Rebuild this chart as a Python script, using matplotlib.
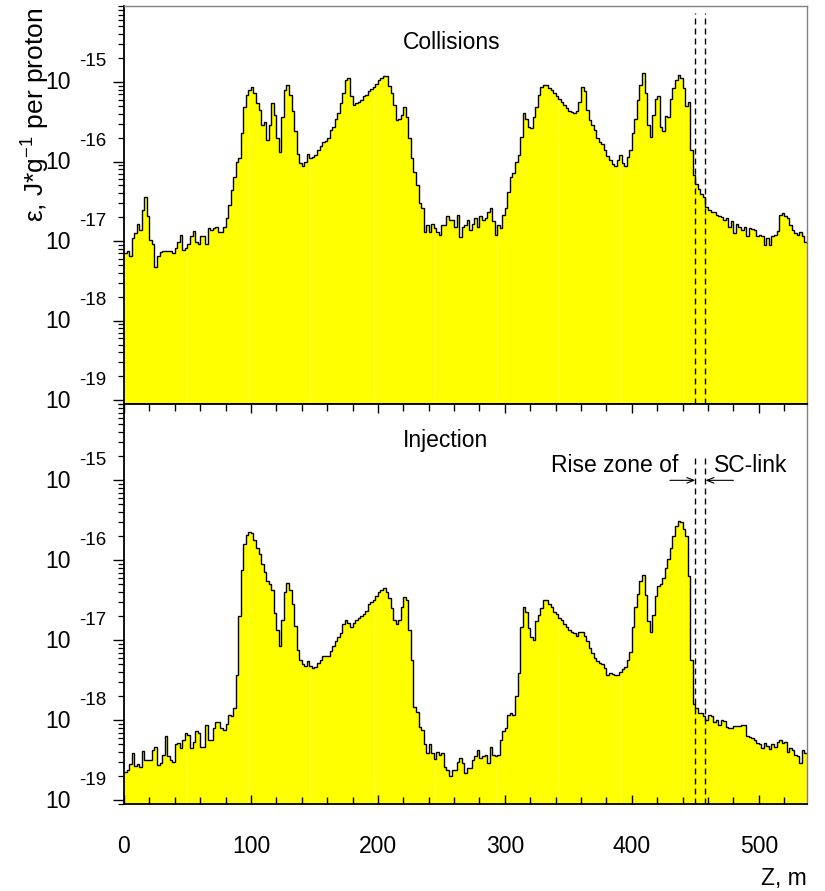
import matplotlib

matplotlib.use("Agg")

import matplotlib.pyplot as plt
import numpy as np
from matplotlib.ticker import LogLocator, MultipleLocator, NullFormatter
from matplotlib.transforms import offset_copy

# bin edges along the beam line, 2 m bins
z_edges = np.arange(0, 540, 2)

# log10 of energy deposition per bin (J/g per proton)
collisions_log = [
    -17.15, -17.13, -17.19, -16.96, -16.90, -16.78, -16.86, -16.61, -16.44, -16.69,
    -16.98, -17.03, -17.32, -17.19, -17.14, -17.13, -17.12, -17.12, -17.13, -17.15,
    -17.09, -17.01, -16.92, -17.11, -17.09, -17.03, -16.94, -16.87, -17.01, -17.03,
    -16.94, -16.94, -17.03, -16.84, -16.86, -16.84, -16.82, -16.89, -16.88, -16.82,
    -16.71, -16.55, -16.36, -16.19, -16.01, -15.96, -15.64, -15.31, -15.16, -15.10,
    -15.06, -15.14, -15.27, -15.35, -15.54, -15.50, -15.73, -15.54, -15.27, -15.41,
    -15.71, -15.88, -15.44, -15.10, -15.04,
    -15.16, -15.37, -15.62, -15.90, -16.02, -16.06, -16.00, -15.90, -15.96, -15.94,
    -15.92, -15.86, -15.80, -15.76, -15.74, -15.71, -15.61, -15.56, -15.46, -15.39,
    -15.27, -15.14, -14.97, -14.95, -15.18, -15.29, -15.27, -15.25, -15.23, -15.18,
    -15.16, -15.12, -15.09, -15.06, -15.03, -14.98, -14.95, -14.93, -14.92, -15.05,
    -15.14, -15.29, -15.48, -15.46, -15.41, -15.31, -15.44, -15.71, -15.96, -16.13,
    -16.29, -16.52, -16.59, -16.88, -16.80, -16.88, -16.78, -16.84, -16.88, -16.92,
    -16.80, -16.80, -16.69, -16.73, -16.73, -16.82, -16.67,
    -16.95, -16.82, -16.80, -16.73, -16.86, -16.78, -16.71, -16.82, -16.68, -16.73,
    -16.71, -16.64, -16.59, -16.75, -16.92, -16.80, -16.84, -16.67, -16.59, -16.38,
    -16.19, -16.15, -16.00, -15.92, -15.69, -15.39, -15.46, -15.56, -15.58, -15.44,
    -15.31, -15.16, -15.06, -15.04, -15.04, -15.07, -15.10, -15.14, -15.18, -15.22,
    -15.25, -15.29, -15.33, -15.36, -15.38, -15.39, -15.37, -15.25, -15.06, -15.12,
    -15.35, -15.48, -15.54, -15.61, -15.70, -15.75, -15.78, -15.86, -15.93, -15.98,
    -16.03, -16.06, -15.98, -15.92, -16.02, -16.06, -15.94,
    -15.85, -15.64, -15.46, -15.23, -15.04, -14.89, -15.14, -15.54, -15.69, -15.41,
    -15.21, -15.18, -15.56, -15.62, -15.43, -15.44, -15.21, -15.08, -14.97, -14.91,
    -14.95, -15.08, -15.30, -15.25, -15.85, -16.17, -16.28, -16.35, -16.41, -16.44,
    -16.57, -16.61, -16.64, -16.63, -16.67, -16.69, -16.70, -16.73, -16.71, -16.82,
    -16.75, -16.90, -16.78, -16.82, -16.86, -16.82, -16.94, -16.84, -16.85, -16.86,
    -16.94, -16.92, -16.94, -17.05, -16.96, -17.05, -16.94, -16.92, -16.87, -16.67,
    -16.65, -16.69, -16.71, -16.80, -16.86, -16.90, -16.92, -16.88, -16.94, -17.01,
]

injection_log = [
    -18.64, -18.62, -18.54, -18.41, -18.57, -18.55, -18.58, -18.38, -18.50, -18.49,
    -18.50, -18.37, -18.33, -18.56, -18.53, -18.43, -18.20, -18.45, -18.50, -18.52,
    -18.29, -18.28, -18.35, -18.24, -18.16, -18.18, -18.34, -18.27, -18.13, -18.16,
    -18.33, -18.33, -18.06, -18.25, -18.25, -18.10, -18.02, -18.02, -18.10, -18.12,
    -18.05, -17.93, -17.95, -17.85, -17.43, -16.70, -16.12, -15.80, -15.68, -15.64,
    -15.66, -15.74, -15.84, -15.92, -16.05, -16.14, -16.26, -16.30, -16.37, -16.66,
    -16.87, -17.07, -16.74, -16.39, -16.28,
    -16.37, -16.55, -16.82, -17.12, -17.25, -17.29, -17.32, -17.26, -17.32, -17.34,
    -17.33, -17.28, -17.24, -17.20, -17.19, -17.19, -17.13, -17.07, -17.01, -16.96,
    -16.91, -16.80, -16.75, -16.78, -16.83, -16.78, -16.74, -16.72, -16.70, -16.67,
    -16.63, -16.55, -16.52, -16.49, -16.44, -16.40, -16.37, -16.35, -16.39, -16.47,
    -16.60, -16.74, -16.80, -16.74, -16.58, -16.46, -16.49, -16.87, -17.24, -17.83,
    -17.90, -18.08, -18.12, -18.29, -18.41, -18.29, -18.41, -18.48, -18.39, -18.43,
    -18.41, -18.58, -18.62, -18.70, -18.62, -18.62, -18.52,
    -18.47, -18.53, -18.66, -18.60, -18.60, -18.50, -18.45, -18.37, -18.47, -18.45,
    -18.43, -18.53, -18.33, -18.43, -18.45, -18.43, -18.25, -18.13, -18.09, -17.93,
    -17.91, -17.93, -17.70, -17.41, -16.83, -16.58, -16.65, -16.85, -16.96, -16.99,
    -16.76, -16.68, -16.60, -16.50, -16.50, -16.54, -16.58, -16.64, -16.67, -16.72,
    -16.75, -16.80, -16.83, -16.87, -16.89, -16.91, -16.94, -16.90, -16.89, -16.94,
    -17.01, -17.10, -17.16, -17.22, -17.26, -17.28, -17.29, -17.35, -17.43, -17.41,
    -17.42, -17.43, -17.43, -17.40, -17.36, -17.33, -17.25,
    -17.14, -16.83, -16.58, -16.42, -16.26, -16.18, -16.43, -16.76, -16.89, -16.68,
    -16.45, -16.32, -16.29, -16.22, -16.09, -15.98, -15.84, -15.69, -15.57, -15.51,
    -15.52, -15.61, -15.70, -16.20, -17.24, -17.80, -17.85, -17.91, -17.91, -17.95,
    -17.99, -17.93, -17.95, -18.02, -17.99, -18.06, -18.00, -18.01, -18.08, -18.10,
    -18.09, -18.07, -18.07, -18.07, -18.06, -18.06, -18.20, -18.21, -18.22, -18.25,
    -18.28, -18.30, -18.35, -18.28, -18.32, -18.36, -18.29, -18.33, -18.27, -18.25,
    -18.28, -18.27, -18.39, -18.34, -18.37, -18.43, -18.45, -18.53, -18.37, -18.41,
]

# faint gaps in the fill, left by the original renderer
gap_positions = [48.6, 97.8, 146.8, 196.9, 245.0, 293.8, 342.8, 391.7, 440.5]

sc_link_zone = [450.0, 458.0]
decades = [-19, -18, -17, -16, -15]
Y_MIN, Y_MAX = 9.0e-20, 9.0e-15
X_MAX = 538

plt.rcParams.update(
    {
        "font.family": ["Liberation Sans", "DejaVu Sans"],
        "mathtext.fontset": "custom",
        "mathtext.rm": "Liberation Sans",
        "mathtext.it": "Liberation Sans:italic",
    }
)

fig = plt.figure(figsize=(8.25, 8.91), dpi=100, facecolor="white")
ax_top = fig.add_axes([0.1503, 0.5466, 0.8279, 0.4467])
ax_bot = fig.add_axes([0.1503, 0.0976, 0.8279, 0.4490])


def draw_panel(ax, values_log, label, dash_top):
    values = np.power(10.0, np.asarray(values_log))
    ax.stairs(values, z_edges, fill=True, facecolor="#ffff00", edgecolor="none",
              baseline=Y_MIN, zorder=1)
    for gx in gap_positions:
        ax.axvline(gx, color="white", lw=0.5, alpha=0.35, zorder=1.5)
    ax.stairs(values, z_edges, color="black", lw=1.0, baseline=None, zorder=2)

    ax.set_yscale("log")
    ax.set_xlim(0, X_MAX)
    ax.set_ylim(Y_MIN, Y_MAX)

    for xv in sc_link_zone:
        ax.plot([xv, xv], [Y_MIN, dash_top], color="black", lw=1.0,
                dashes=(4.3, 2.9), zorder=3)

    ax.text(220, 10 ** -14.5, label, fontsize=16.5, va="center", ha="left")

    # y axis: ROOT-like "10" with detached exponent
    ax.yaxis.set_major_locator(LogLocator(base=10, numticks=20))
    ax.yaxis.set_minor_locator(LogLocator(base=10, subs=np.arange(2, 10), numticks=20))
    ax.yaxis.set_major_formatter(NullFormatter())
    ax.yaxis.set_minor_formatter(NullFormatter())
    ax.tick_params(axis="y", which="major", direction="out", length=8, width=1.0)
    ax.tick_params(axis="y", which="minor", direction="out", length=4.3, width=0.9)
    base = ax.get_yaxis_transform()
    tr_main = offset_copy(base, fig=fig, x=0, y=-1, units="dots")
    tr_exp = offset_copy(base, fig=fig, x=0, y=20, units="dots")
    for d in decades:
        ax.text(-0.0776, 10.0 ** d, "10", transform=tr_main, ha="right",
                va="center", fontsize=16.5, clip_on=False)
        ax.text(-0.0264, 10.0 ** d, f"{d}", transform=tr_exp, ha="right",
                va="center", fontsize=13.5, clip_on=False)

    for side in ("left", "bottom"):
        ax.spines[side].set_color("black")
        ax.spines[side].set_linewidth(1.3)
    for side in ("top", "right"):
        ax.spines[side].set_color("#808080")
        ax.spines[side].set_linewidth(1.0)


draw_panel(ax_top, collisions_log, "Collisions", 10 ** -14.13)
draw_panel(ax_bot, injection_log, "Injection", 10 ** -14.71)

ax_top.tick_params(axis="x", which="both", bottom=False, top=False, labelbottom=False)

ax_bot.spines["top"].set_color("black")
ax_bot.spines["top"].set_linewidth(1.3)
ax_bot.xaxis.set_major_locator(MultipleLocator(100))
ax_bot.xaxis.set_minor_locator(MultipleLocator(20))
ax_bot.tick_params(axis="x", which="both", direction="in", top=True, bottom=True,
                   width=1.0, labelsize=16.5, pad=22)
ax_bot.tick_params(axis="x", which="major", length=6.5)
ax_bot.tick_params(axis="x", which="minor", length=5)

ax_bot.text(437, 10 ** -14.82, "Rise zone of", fontsize=16.5, ha="right", va="center")
ax_bot.text(464.6, 10 ** -14.82, "SC-link", fontsize=16.5, ha="left", va="center")
arrow_kw = dict(arrowstyle="->,head_length=0.5,head_width=0.2", color="black", lw=0.8,
                shrinkA=0, shrinkB=0)
ax_bot.annotate("", xy=(sc_link_zone[0], 1e-15), xytext=(430, 1e-15), arrowprops=arrow_kw)
ax_bot.annotate("", xy=(sc_link_zone[1], 1e-15), xytext=(480, 1e-15), arrowprops=arrow_kw)

fig.text(0.978, 1 - 878 / 891, "Z, m", fontsize=16.5, ha="right", va="center")
fig.text(0.0545, 0.992, "ε, J*g$^{-1}$ per proton", fontsize=19, rotation=90,
         rotation_mode="anchor", ha="right", va="baseline")

fig.savefig("out.png", dpi=100, facecolor="white")
